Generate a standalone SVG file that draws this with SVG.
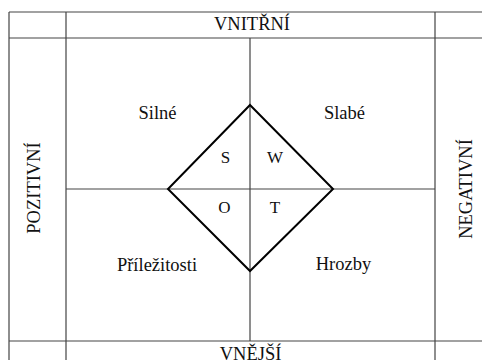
<svg xmlns="http://www.w3.org/2000/svg" width="482" height="360" viewBox="0 0 482 360">
<style>
.grid{stroke:#444;stroke-width:1.2;fill:none}
.dia{stroke:#000;stroke-width:2;fill:none;stroke-linejoin:miter}
.t{font-family:"Liberation Serif","Times New Roman",serif;font-size:18.5px;fill:#111;text-anchor:middle}
.l{font-family:"Liberation Serif","Times New Roman",serif;font-size:17px;fill:#111;text-anchor:middle}
</style>
<rect width="482" height="360" fill="#fff"/>
<g id="connectors">
<path class="grid" d="M9,12 H482 M9,38 H482 M9,341 H482 M9,12 V360 M66,12 V360 M435,12 V360 M250,38 V341 M66,189 H435"/>
</g>
<g id="diamond">
<polygon class="dia" points="250,105 333,189 250,271 168,189"/>
</g>
<g id="vnitrni"><text class="t" x="252" y="30">VNITŘNÍ</text></g>
<g id="vnejsi"><text class="t" x="250.5" y="360">VNĚJŠÍ</text></g>
<g id="pozitivni"><text class="t" transform="translate(39.5,188) rotate(-90)" x="0" y="0">POZITIVNÍ</text></g>
<g id="negativni"><text class="t" transform="translate(472,189) rotate(-90)" x="0" y="0">NEGATIVNÍ</text></g>
<g id="silne"><text class="t" x="157.5" y="119">Silné</text></g>
<g id="slabe"><text class="t" x="344.5" y="119">Slabé</text></g>
<g id="prilezitosti"><text class="t" x="157" y="271">Příležitosti</text></g>
<g id="hrozby"><text class="t" x="343.5" y="270">Hrozby</text></g>
<g id="s"><text class="l" x="225.5" y="163">S</text></g>
<g id="w"><text class="l" x="275" y="163">W</text></g>
<g id="o"><text class="l" x="224.5" y="212.5">O</text></g>
<g id="t"><text class="l" x="275" y="212.5">T</text></g>
</svg>
